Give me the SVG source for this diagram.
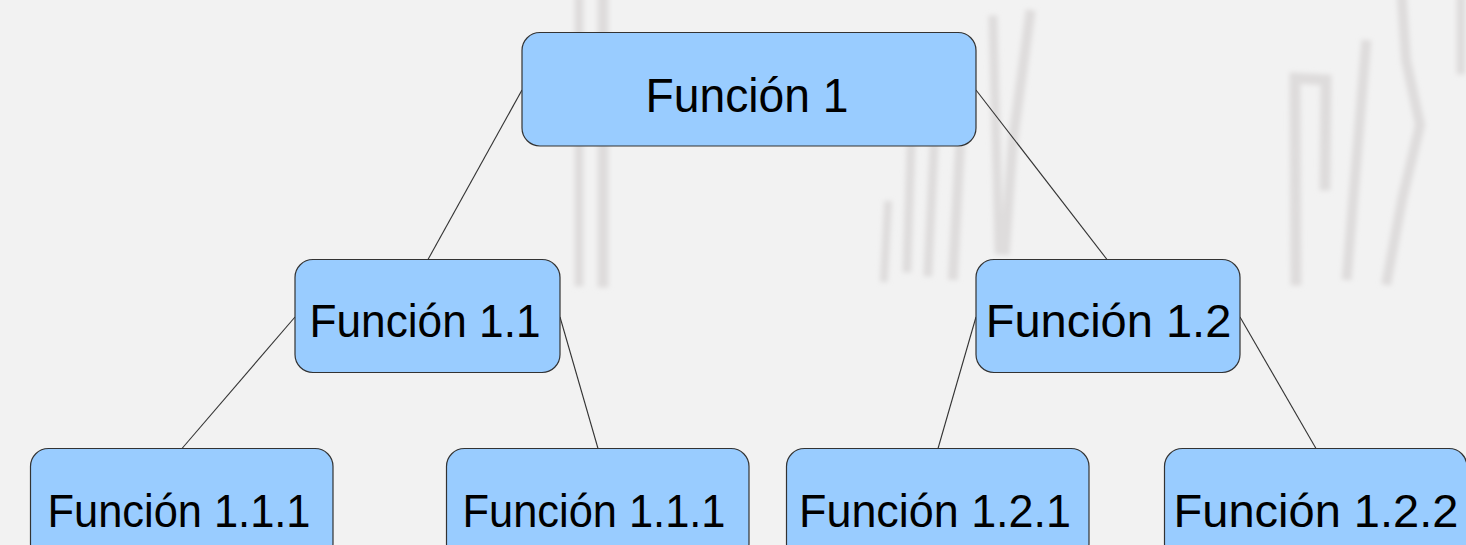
<svg xmlns="http://www.w3.org/2000/svg" width="1466" height="545" viewBox="0 0 1466 545">
  <defs>
    <filter id="soft" filterUnits="userSpaceOnUse" x="0" y="0" width="1466" height="545">
      <feGaussianBlur stdDeviation="2.5"/>
    </filter>
    <style>
      .node rect { fill: #99ccff; stroke: #333333; stroke-width: 1.2; }
      .node text { font-family: "Liberation Sans", Arial, sans-serif; font-size: 47px; fill: #000000; text-anchor: middle; }
      .node text.big { font-size: 49px; }
      .links line { stroke: #333333; stroke-width: 1.1; fill: none; }
      .ghost { fill: none; stroke: #dedcdc; stroke-linecap: square; }
    </style>
  </defs>

  <!-- page -->
  <rect x="0" y="0" width="1466" height="545" fill="#f2f2f2"/>

  <!-- faint background strokes -->
  <g id="background-marks" filter="url(#soft)">
    <line class="ghost" x1="579" y1="0" x2="579" y2="282" stroke-width="9" stroke="#e0e0e0"/>
    <line class="ghost" x1="603" y1="0" x2="603" y2="282" stroke-width="11" stroke="#d8d8d8"/>
    <line class="ghost" x1="993" y1="20" x2="999" y2="250" stroke-width="9"/>
    <polyline class="ghost" points="1030,15 1013,140 1005,250" stroke-width="10"/>
    <line class="ghost" x1="911" y1="148" x2="907" y2="268" stroke-width="9"/>
    <line class="ghost" x1="934" y1="148" x2="928" y2="272" stroke-width="9"/>
    <line class="ghost" x1="962" y1="110" x2="953" y2="275" stroke-width="10"/>
    <line class="ghost" x1="888" y1="205" x2="884" y2="278" stroke-width="8" stroke="#e6e4e4"/>
    <polyline class="ghost" points="1296,280 1295,78 1326,80 1325,185" stroke-width="11"/>
    <line class="ghost" x1="1366" y1="45" x2="1347" y2="275" stroke-width="10"/>
    <polyline class="ghost" points="1402,0 1406,60 1420,125 1402,200 1387,280" stroke-width="10"/>
    <line class="ghost" x1="1461" y1="0" x2="1461" y2="70" stroke-width="9"/>
  </g>

  <!-- connectors -->
  <g id="connectors" class="links">
    <line x1="522" y1="90" x2="428" y2="259.5"/>
    <line x1="976" y1="90" x2="1107" y2="259.5"/>
    <line x1="295" y1="317" x2="182" y2="448.5"/>
    <line x1="560" y1="317" x2="598" y2="448.5"/>
    <line x1="976" y1="317" x2="938" y2="448.5"/>
    <line x1="1240" y1="317" x2="1316" y2="448.5"/>
  </g>

  <!-- nodes -->
  <g id="n1" class="node">
    <rect x="522" y="32.5" width="454" height="113.5" rx="18"/>
    <text class="big" x="747" y="111.5" textLength="203" lengthAdjust="spacingAndGlyphs">Función 1</text>
  </g>
  <g id="n1-1" class="node">
    <rect x="295" y="259.5" width="265" height="113" rx="18"/>
    <text x="425" y="336.7" textLength="231" lengthAdjust="spacingAndGlyphs">Función 1.1</text>
  </g>
  <g id="n1-2" class="node">
    <rect x="976" y="259.5" width="264" height="113" rx="18"/>
    <text x="1108.5" y="336.7">Función 1.2</text>
  </g>
  <g id="n1-1-1a" class="node">
    <rect x="30.5" y="448.5" width="302.5" height="113" rx="18"/>
    <text x="179" y="526.7" textLength="263" lengthAdjust="spacingAndGlyphs">Función 1.1.1</text>
  </g>
  <g id="n1-1-1b" class="node">
    <rect x="446.5" y="448.5" width="302.5" height="113" rx="18"/>
    <text x="594" y="526.7" textLength="263" lengthAdjust="spacingAndGlyphs">Función 1.1.1</text>
  </g>
  <g id="n1-2-1" class="node">
    <rect x="786.5" y="448.5" width="302.5" height="113" rx="18"/>
    <text x="935" y="526.7" textLength="272" lengthAdjust="spacingAndGlyphs">Función 1.2.1</text>
  </g>
  <g id="n1-2-2" class="node">
    <rect x="1164.5" y="448.5" width="302.5" height="113" rx="18"/>
    <text x="1316" y="526.7">Función 1.2.2</text>
  </g>
</svg>
